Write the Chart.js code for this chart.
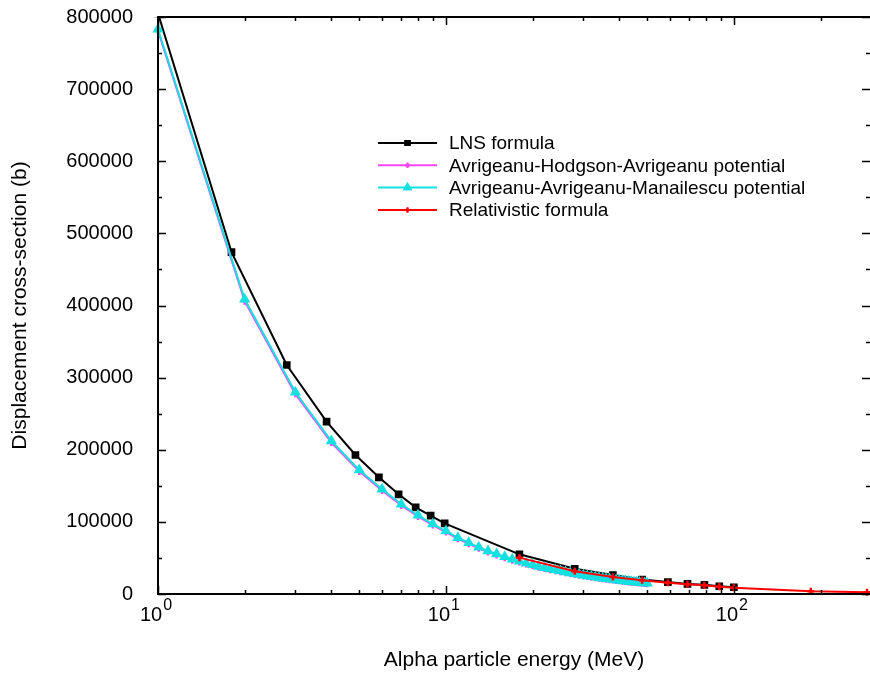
<!DOCTYPE html>
<html>
<head>
<meta charset="utf-8">
<script src="https://cdn.jsdelivr.net/npm/chart.js@4.4.1/dist/chart.umd.min.js"></script>
<style>
  html, body { margin: 0; padding: 0; background: #fff; overflow: hidden; }
  canvas { display: block; }
</style>
</head>
<body>
<canvas id="chart" width="870" height="675"></canvas>
<script>
// Alpha particle energies (MeV) and displacement cross-sections (b)
const lnsEnergy = [1, 1.8, 2.8, 3.85, 4.85, 5.85, 6.85, 7.85, 8.85, 9.9, 18, 28, 38, 48, 59, 69, 79, 89, 100];
const lnsSigma = [805000, 474000, 317500, 238900, 192700, 161800, 138200, 120200, 108600, 98000,
  55000, 34900, 26300, 20000, 16500, 14000, 12700, 10800, 9300];

const potEnergy = [1, 2, 3, 4, 5, 6, 7, 8, 9, 10, 11, 12, 13, 14, 15, 16, 17, 18, 19, 20,
  21, 22, 23, 24, 25, 26, 27, 28, 29, 30, 31, 32, 33, 34, 35, 36, 37, 38, 39, 40,
  41, 42, 43, 44, 45, 46, 47, 48, 49, 50];
const ahaSigma = [781000, 406000, 277500, 210000, 170000, 143500, 122800, 107600, 95500, 85800,
  76700, 69700, 63300, 58300, 54200, 50400, 46900, 44300, 41600, 39400,
  37200, 35400, 33700, 32200, 30800, 29400, 28200, 27100, 26100, 25100,
  24200, 23300, 22500, 21800, 21100, 20400, 19800, 19300, 18700, 18200,
  17700, 17200, 16800, 16400, 16000, 15600, 15200, 14900, 14500, 14200];
const aamSigma = [783000, 408600, 279700, 212100, 171900, 145200, 124400, 109100, 97000, 87300,
  78100, 71100, 64700, 59600, 55500, 51700, 48100, 45500, 42800, 40500,
  38300, 36500, 34800, 33200, 31800, 30400, 29200, 28000, 27000, 26000,
  25100, 24200, 23400, 22700, 22000, 21300, 20700, 20100, 19500, 19000,
  18500, 18000, 17500, 17100, 16700, 16300, 15900, 15600, 15200, 14900];

const relEnergy = [18, 28, 38, 48, 59, 69, 79, 89, 100, 185, 290];
const relSigma = [50400, 31500, 23500, 19200, 15700, 13400, 12100, 10100, 8700, 3700, 2400];

const seriesNames = [
  'LNS formula',
  'Avrigeanu-Hodgson-Avrigeanu potential',
  'Avrigeanu-Avrigeanu-Manailescu potential',
  'Relativistic formula'
];
const xTickDecades = [1, 10, 100];

const FONT = '"Liberation Sans", Arial, sans-serif';

function pts(xs, ys) {
  return xs.map((x, i) => ({ x: x, y: ys[i] }));
}

const clipBox = { left: 8, top: 0, right: 8, bottom: 8 };

const datasets = [
  {
    label: seriesNames[0], data: pts(lnsEnergy, lnsSigma),
    borderColor: '#000000', backgroundColor: '#000000',
    pointStyle: 'rect', pointRadius: 4, borderWidth: 2, order: 3
  },
  {
    label: seriesNames[1], data: pts(potEnergy, ahaSigma),
    borderColor: '#ff44ff', backgroundColor: '#ff44ff',
    pointStyle: 'cross', pointRadius: 3.5, pointBorderWidth: 2.5, borderWidth: 2, order: 2
  },
  {
    label: seriesNames[2], data: pts(potEnergy, aamSigma),
    borderColor: '#14e0e0', backgroundColor: '#14e0e0',
    pointStyle: 'triangle', pointRadius: 4.5, borderWidth: 2, order: 1
  },
  {
    label: seriesNames[3], data: pts(relEnergy, relSigma),
    borderColor: '#ff0000', backgroundColor: '#ff0000',
    pointStyle: 'cross', pointRadius: 3.5, pointBorderWidth: 2.5, borderWidth: 2, order: 0
  }
];
datasets.forEach(d => { d.clip = clipBox; d.tension = 0; d.pointHoverRadius = d.pointRadius; });

// frame, inward ticks, superscript x labels and the legend
const decorations = {
  id: 'decorations',
  afterDatasetsDraw(chart) {
    const { ctx, chartArea: a, scales: { x, y } } = chart;
    ctx.save();
    ctx.strokeStyle = '#000';
    ctx.lineWidth = 1.5;
    ctx.beginPath();
    for (let v = 0; v <= 800000; v += 50000) {
      const py = Math.round(y.getPixelForValue(v)) + 0.5;
      const len = v % 100000 === 0 ? 8 : 4;
      ctx.moveTo(a.left, py); ctx.lineTo(a.left + len, py);
      ctx.moveTo(a.right, py); ctx.lineTo(a.right - len, py);
    }
    xTickDecades.forEach(d => {
      for (let k = 1; k <= 9; k++) {
        const v = k * d;
        if (v > x.max) break;
        const px = Math.round(x.getPixelForValue(v)) + 0.5;
        const len = k === 1 ? 8 : 4;
        ctx.moveTo(px, a.bottom); ctx.lineTo(px, a.bottom - len);
        ctx.moveTo(px, a.top); ctx.lineTo(px, a.top + len);
      }
    });
    ctx.stroke();

    ctx.lineWidth = 2;
    ctx.beginPath();
    ctx.moveTo(a.right + 1, a.top);
    ctx.lineTo(a.left, a.top);
    ctx.lineTo(a.left, a.bottom);
    ctx.lineTo(a.right + 1, a.bottom);
    ctx.stroke();

    // x tick labels as 10^n
    ctx.fillStyle = '#000';
    ctx.textBaseline = 'alphabetic';
    ctx.textAlign = 'left';
    xTickDecades.forEach((d, n) => {
      const px = x.getPixelForValue(d);
      ctx.font = '20px ' + FONT;
      const w1 = ctx.measureText('10').width;
      ctx.font = '16px ' + FONT;
      const w2 = ctx.measureText(String(n)).width;
      const start = px - (w1 + w2 + 1) / 2 - 2;
      ctx.font = '20px ' + FONT;
      ctx.fillText('10', start, 621);
      ctx.font = '16px ' + FONT;
      ctx.fillText(String(n), start + w1 + 1, 610);
    });

    // legend: line sample with marker, then the name
    ctx.font = '19px ' + FONT;
    ctx.textBaseline = 'middle';
    chart.data.datasets.forEach((ds, i) => {
      const ly = 143 + i * 22.3;
      ctx.strokeStyle = ds.borderColor;
      ctx.lineWidth = 2;
      ctx.beginPath();
      ctx.moveTo(378, ly); ctx.lineTo(437, ly);
      ctx.stroke();
      Chart.helpers.drawPoint(ctx, {
        pointStyle: ds.pointStyle, radius: ds.pointRadius - 1, rotation: 0,
        borderWidth: ds.pointBorderWidth || 1
      }, 407.5, ly);
      ctx.fillStyle = ds.borderColor;
      ctx.fill();
      ctx.stroke();
      ctx.fillStyle = '#000';
      ctx.fillText(ds.label, 449, ly + 1);
    });
    ctx.restore();
  }
};

// keep the plot box fixed: no extra room for half-height tick labels
function noPad(s) {
  s.paddingTop = 0; s.paddingBottom = 0;
  s.paddingLeft = 0; s.paddingRight = 0;
}

new Chart(document.getElementById('chart'), {
  type: 'line',
  data: { datasets: datasets },
  options: {
    responsive: false,
    animation: false,
    devicePixelRatio: 1,
    layout: { autoPadding: false, padding: { top: 17, right: 0, left: 0, bottom: 0 } },
    plugins: { legend: { display: false }, tooltip: { enabled: false } },
    scales: {
      x: {
        type: 'logarithmic',
        min: 1,
        max: 297,
        grid: { display: false },
        border: { display: false },
        ticks: { display: false },
        title: {
          display: true,
          text: 'Alpha particle energy (MeV)',
          color: '#000',
          font: { family: FONT, size: 21 },
          padding: { top: 0, bottom: 2 }
        },
        afterFit: s => { s.height = 81; noPad(s); }
      },
      y: {
        min: 0,
        max: 800000,
        grid: { display: false },
        border: { display: false },
        ticks: {
          stepSize: 100000,
          padding: 17,
          color: '#000',
          font: { family: FONT, size: 20 },
          callback: v => String(v)
        },
        title: {
          display: true,
          text: 'Displacement cross-section (b)',
          color: '#000',
          font: { family: FONT, size: 21 },
          padding: { top: 8, bottom: 0 }
        },
        afterFit: s => { s.width = 158; noPad(s); }
      }
    }
  },
  plugins: [decorations]
});
</script>
</body>
</html>
